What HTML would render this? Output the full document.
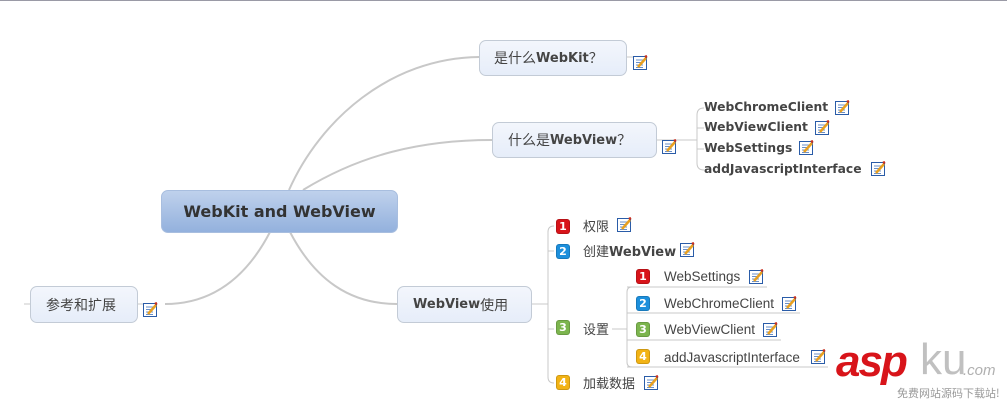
<!DOCTYPE html>
<html><head><meta charset="utf-8"><style>
body{margin:0;width:1007px;height:402px;background:#fff;position:relative;overflow:hidden;font-family:"Liberation Sans","DejaVu Sans","Noto Sans CJK SC",sans-serif;color:#444}
.a{position:absolute;white-space:nowrap}
.node{position:absolute;box-sizing:border-box;border:1px solid #c3cbd6;border-radius:7px;background:linear-gradient(#f3f6fc,#e6edf9);font-size:14px;color:#444;display:flex;align-items:center}
.b{font-family:"DejaVu Sans","Noto Sans CJK SC",sans-serif;font-weight:bold}
.t{font-size:13px;color:#444}
.badge{position:absolute;width:14px;height:15px;border-radius:3px;color:#fff;font:bold 11px "DejaVu Sans",sans-serif;text-align:center;line-height:15px;box-shadow:inset 0 0 0 1px rgba(0,0,0,.15)}
.r{background:#d8141a}.bl{background:#1c8fdc}.g{background:#7cb54e}.y{background:#f2b315}
</style></head><body>
<div class="a" style="left:0;top:0;width:1007px;height:1px;background:#9a9aa6"></div>
<svg class="a" style="left:0;top:0" width="1007" height="402">
<defs><symbol id="ic" viewBox="0 0 15 15"><rect x="0.5" y="1.5" width="13" height="13" fill="#fff" stroke="#2a5ca8"/><path d="M3 5h7M3 7.5h7M3 10h7M3 12.5h7" stroke="#6a8fc8" stroke-width="1"/><path d="M5 12 L13 3" stroke="#e8a020" stroke-width="2.5"/><path d="M12 2 L14 1" stroke="#c83020" stroke-width="2.5"/></symbol></defs>
<g fill="none" stroke="#c8c8c8" stroke-width="2">
<path d="M289 190 C320 120 390 58 479 57"/>
<path d="M303 190 C360 155 420 140 492 140"/>
<path d="M270 232 C245 280 210 304 165 304"/>
<path d="M290 232 C315 280 350 304 397 304"/>
</g>
<g fill="none" stroke="#c8c8c8" stroke-width="1">
<path d="M626 57 H640"/><path d="M137 304 H150"/><path d="M30 304 H24"/>
<path d="M656 140 H697"/>
<path d="M704 108 Q697 108 697 115 V163 Q697 170 704 170"/>
<path d="M697 128 H704M697 149 H704"/>
<path d="M531 304 H548"/>
<path d="M554 226 Q548 226 548 232 V377 Q548 383 554 383"/>
<path d="M548 251 H554M548 329 H554"/>
<path d="M612 329 H627"/>
<path d="M632 287 Q627 287 627 292 V362 Q627 367 632 367"/>
<path d="M627 287 H767M627 313 H800M627 340 H781M627 367 H828"/>
</g>
<use href="#ic" x="633" y="55" width="15" height="15"/>
<use href="#ic" x="662" y="139" width="15" height="15"/>
<use href="#ic" x="835" y="100" width="15" height="15"/>
<use href="#ic" x="815" y="120" width="15" height="15"/>
<use href="#ic" x="799" y="140" width="15" height="15"/>
<use href="#ic" x="871" y="161" width="15" height="15"/>
<use href="#ic" x="143" y="302" width="15" height="15"/>
<use href="#ic" x="617" y="217" width="15" height="15"/>
<use href="#ic" x="680" y="242" width="15" height="15"/>
<use href="#ic" x="749" y="269" width="15" height="15"/>
<use href="#ic" x="782" y="296" width="15" height="15"/>
<use href="#ic" x="763" y="322" width="15" height="15"/>
<use href="#ic" x="811" y="349" width="15" height="15"/>
<use href="#ic" x="644" y="375" width="15" height="15"/>
</svg>
<div class="node" style="left:161px;top:190px;width:237px;height:43px;background:linear-gradient(#bfd1ec,#93b1dd);border-color:#a8bedf;justify-content:center;font-size:16px;color:#333"><span class="b">WebKit and WebView</span></div>
<div class="node" style="left:479px;top:40px;width:148px;height:36px;padding-left:14px">是什么<span class="b" style="font-size:13px">WebKit</span>？</div>
<div class="node" style="left:492px;top:122px;width:165px;height:36px;padding-left:15px">什么是<span class="b" style="font-size:13px">WebView</span>？</div>
<div class="node" style="left:30px;top:286px;width:108px;height:37px;padding-left:15px">参考和扩展</div>
<div class="node" style="left:397px;top:286px;width:135px;height:37px;padding-left:15px"><span class="b" style="font-size:13px">WebView</span>使用</div>
<div class="a b" style="left:704px;top:100px;font-size:12.3px">WebChromeClient</div>
<div class="a b" style="left:704px;top:120px;font-size:12.3px">WebViewClient</div>
<div class="a b" style="left:704px;top:141px;font-size:12.3px">WebSettings</div>
<div class="a b" style="left:704px;top:162px;font-size:12.3px">addJavascriptInterface</div>
<div class="badge r" style="left:556px;top:219px">1</div><div class="a t" style="left:583px;top:216px">权限</div>
<div class="badge bl" style="left:556px;top:244px">2</div><div class="a t" style="left:583px;top:241px">创建<span class="b">WebView</span></div>
<div class="badge g" style="left:556px;top:320px">3</div><div class="a t" style="left:583px;top:319px">设置</div>
<div class="badge y" style="left:556px;top:375px">4</div><div class="a t" style="left:583px;top:373px">加载数据</div>
<div class="badge r" style="left:636px;top:269px">1</div><div class="a t" style="left:664px;top:269px;font-size:13.5px">WebSettings</div>
<div class="badge bl" style="left:636px;top:296px">2</div><div class="a t" style="left:664px;top:296px;font-size:13.5px">WebChromeClient</div>
<div class="badge g" style="left:636px;top:322px">3</div><div class="a t" style="left:664px;top:322px;font-size:13.5px">WebViewClient</div>
<div class="badge y" style="left:636px;top:349px">4</div><div class="a t" style="left:664px;top:350px;font-size:13.5px">addJavascriptInterface</div>
<div class="a" style="left:836px;top:337px;font:italic bold 44px 'Liberation Sans',sans-serif;color:#d8141a;letter-spacing:-2px">asp</div>
<div class="a" style="left:920px;top:335px;font:44px 'Liberation Sans',sans-serif;color:#c0c0c0">ku</div>
<div class="a" style="left:963px;top:362px;font:italic 15px 'Liberation Sans',sans-serif;color:#b0b0b0">.com</div>
<div class="a" style="left:897px;top:385px;font:11px 'Noto Sans CJK SC',sans-serif;color:#999">免费网站源码下载站!</div>
</body></html>
